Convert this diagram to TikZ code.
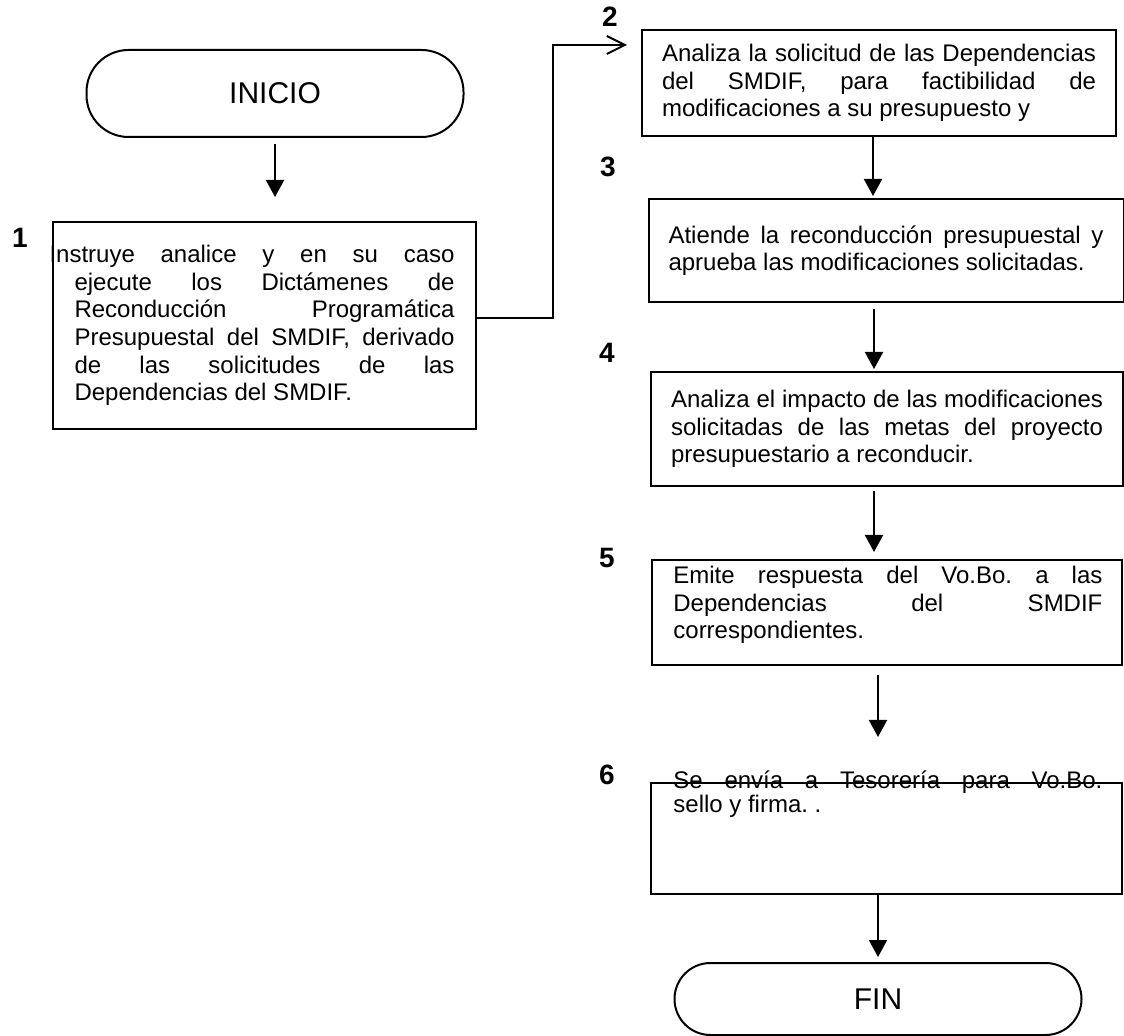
\documentclass[tikz,border=0pt]{standalone}
\usepackage{fontspec}
\setmainfont{Liberation Sans}
\usetikzlibrary{arrows.meta}
\frenchspacing

\begin{document}
\begin{tikzpicture}[x=0.5pt, y=-0.5pt,
		caja/.style = {draw, line width=1pt, inner xsep=10pt, inner ysep=0pt, align=justify, font=\fontsize{12}{13.8}\selectfont},
		texto/.style = {align=justify, inner sep=0pt, text width=214.5pt, anchor=north west},
		terminal/.style = {draw, line width=1pt, font=\fontsize{15}{18}\selectfont},
		paso/.style = {font=\fontsize{14}{16}\selectfont\bfseries},
		flecha/.style = {line width=1pt, -{Triangle[length=8.5pt, width=9pt]}}]
	\useasboundingbox[fill=white] (0,0) rectangle (1124,1036);

	\node[terminal, rounded corners=21pt, minimum width=188.5pt, minimum height=43.5pt] (inicio) at (275,93.5) {INICIO};

	\node[caja, minimum width=211.5pt, minimum height=103.5pt, text width=190pt] (p1) at (264.5,325.5)
		{\parshape 2 -12.5pt 202.5pt 0pt 190pt Instruye analice y en su caso\linebreak ejecute los Dictámenes de\linebreak Reconducción Programática\linebreak Presupuestal del SMDIF, derivado\linebreak de las solicitudes de las\linebreak Dependencias del SMDIF.\par};
	\node[caja, minimum width=237pt, minimum height=53pt, text width=217pt] (p2) at (879,83)
		{Analiza la solicitud de las Dependencias\linebreak del SMDIF, para factibilidad de\linebreak modificaciones a su presupuesto y};
	\node[caja, minimum width=236pt, minimum height=51.5pt, text width=217.5pt] (p3) at (886,250.5)
		{Atiende la reconducción presupuestal y\linebreak aprueba las modificaciones solicitadas.};
	\node[caja, minimum width=235pt, minimum height=57pt, text width=216pt] (p4) at (887,429)
		{Analiza el impacto de las modificaciones\linebreak solicitadas de las metas del proyecto\linebreak presupuestario a reconducir.};
	\node[caja, minimum width=235pt, minimum height=52.5pt] (p5) at (887,612.5) {};
	\node[texto, font=\fontsize{12}{13.8}\selectfont] (t5) at (673,566)
		{Emite respuesta del Vo.Bo. a las\linebreak Dependencias del SMDIF\linebreak correspondientes.};
	\node[caja, minimum width=235.5pt, minimum height=55.5pt] (p6) at (886.5,838.5) {};
	\node[texto, font=\fontsize{12}{12}\selectfont] (t6) at (673,770)
		{Se envía a Tesorería para Vo.Bo.\linebreak sello y firma. .};

	\node[terminal, rounded corners=18pt, minimum width=203.5pt, minimum height=36pt] (fin) at (878,999) {FIN};

	\node[paso] (n1) at (20,238) {1};
	\node[paso] (n2) at (610,17) {2};
	\node[paso] (n3) at (608,167) {3};
	\node[paso] (n4) at (607,353) {4};
	\node[paso] (n5) at (607,558) {5};
	\node[paso] (n6) at (607,775) {6};

	\coordinate (quiebre) at (553,45);
	\draw[flecha, shorten <=3pt, shorten >=12pt] (inicio.south) -- (inicio.south |- p1.north);
	\draw[line width=1pt, -{Straight Barb[length=9pt, width=9pt]}, shorten >=7pt] ([yshift=3.75pt]p1.east) -| (quiebre) -- ([yshift=19pt]p2.west);
	\draw[flecha, shorten >=1pt] ([xshift=-3pt]p2.south) -- ([xshift=-3pt]p2.south |- p3.north);
	\draw[flecha, shorten <=3pt, shorten >=1pt] ([xshift=-6pt]p3.south) -- ([xshift=-6pt]p3.south |- p4.north);
	\draw[flecha, shorten <=2pt, shorten >=3.5pt] ([xshift=-6.5pt]p4.south) -- ([xshift=-6.5pt]p4.south |- p5.north);
	\draw[flecha, shorten <=4.5pt, shorten >=22.5pt] ([xshift=-4.5pt]p5.south) -- ([xshift=-4.5pt]p5.south |- p6.north);
	\draw[flecha, shorten >=2.5pt] (p6.south -| fin.north) -- (fin.north);
\end{tikzpicture}
\end{document}
